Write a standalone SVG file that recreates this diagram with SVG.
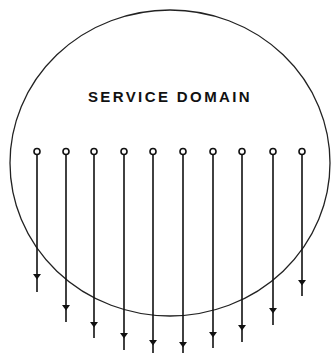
<svg xmlns="http://www.w3.org/2000/svg" width="331" height="353" viewBox="0 0 331 353">
<style>
.bg{fill:#fff}
.domain{fill:none;stroke:#222;stroke-width:1.3}
.pin{fill:#fff;stroke:#111;stroke-width:1.6}
.lead{fill:none;stroke:#111;stroke-width:1.6;marker-mid:url(#ah)}
.label{font-family:"Liberation Sans",Arial,sans-serif;font-weight:bold;font-size:15px;letter-spacing:2.4px;fill:#111}
</style>
<defs>
<marker id="ah" markerWidth="7" markerHeight="8" refX="5" refY="4" orient="auto" markerUnits="userSpaceOnUse" viewBox="0 0 7 8">
<path d="M0,0 L0,8 L5.5,4 Z" fill="#111"/>
</marker>
</defs>
<rect class="bg" x="0" y="0" width="331" height="353"/>
<g id="service-domain">
<ellipse class="domain" cx="170" cy="163" rx="160" ry="153"/>
<text class="label" x="170" y="102" text-anchor="middle">SERVICE DOMAIN</text>
</g>
<g id="connectors">
<path class="lead" d="M37,155 V279 V292"/>
<path class="lead" d="M66,155 V310 V322"/>
<path class="lead" d="M94,155 V327 V338"/>
<path class="lead" d="M124,155 V338 V350"/>
<path class="lead" d="M153,155 V345 V353"/>
<path class="lead" d="M183,155 V347 V353"/>
<path class="lead" d="M213,155 V337 V348"/>
<path class="lead" d="M242,155 V330 V342"/>
<path class="lead" d="M273,155 V313 V325"/>
<path class="lead" d="M302,155 V285 V296"/>
</g>
<g id="pins">
<circle class="pin" cx="37" cy="151.5" r="3"/>
<circle class="pin" cx="66" cy="151.5" r="3"/>
<circle class="pin" cx="94" cy="151.5" r="3"/>
<circle class="pin" cx="124" cy="151.5" r="3"/>
<circle class="pin" cx="153" cy="151.5" r="3"/>
<circle class="pin" cx="183" cy="151.5" r="3"/>
<circle class="pin" cx="213" cy="151.5" r="3"/>
<circle class="pin" cx="242" cy="151.5" r="3"/>
<circle class="pin" cx="273" cy="151.5" r="3"/>
<circle class="pin" cx="302" cy="151.5" r="3"/>
</g>
</svg>
